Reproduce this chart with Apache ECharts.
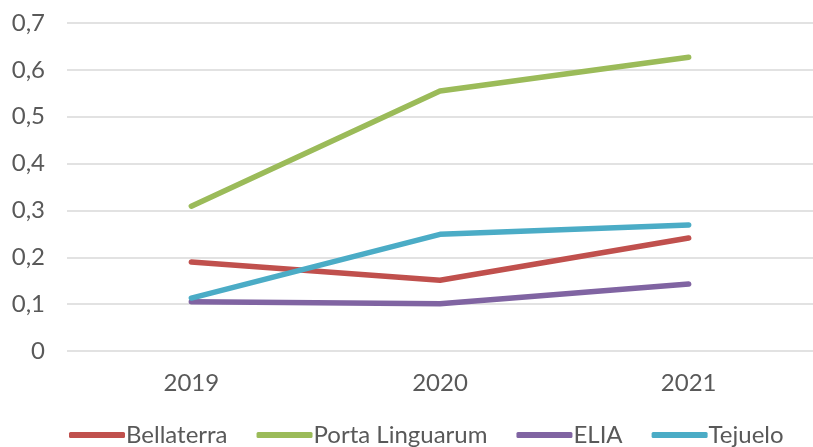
<!DOCTYPE html>
<html>
<head>
<meta charset="utf-8">
<script src="https://cdn.jsdelivr.net/npm/echarts@6/dist/echarts.min.js"></script>
</head>
<body style="margin:0;background:#fff">
<div id="main" style="width:813px;height:447px"></div>
<script>
  // data
  var years = ['2019', '2020', '2021'];
  var bellaterra = [0.19, 0.151, 0.241];
  var portaLinguarum = [0.309, 0.555, 0.627];
  var elia = [0.105, 0.101, 0.143];
  var tejuelo = [0.113, 0.249, 0.269];

  var myChart = echarts.init(document.getElementById('main'));
  function line(name, data, color) {
    return {
      name: name,
      type: 'line',
      data: data,
      symbol: 'none',
      lineStyle: { width: 5.5, color: color, cap: 'round', join: 'round' },
      itemStyle: { color: color }
    };
  }
  myChart.setOption({
    animation: false,
    textStyle: { fontFamily: 'Lato' },
    // the plot runs past the right edge in the original
    grid: { left: 67, right: -16, top: 23, bottom: 96 },
    legend: {
      top: 418,
      left: 64,
      itemWidth: 56,
      itemHeight: 6,
      itemGap: 29,
      icon: 'roundRect',
      textStyle: { fontSize: 24, color: '#595959', fontFamily: 'Lato', padding: [0, 0, 0, -4] }
    },
    xAxis: {
      type: 'category',
      data: years,
      axisLine: { show: false },
      axisTick: { show: false },
      axisLabel: { fontSize: 24, color: '#595959', margin: 20 }
    },
    yAxis: {
      type: 'value',
      min: 0,
      max: 0.7,
      interval: 0.1,
      axisLabel: {
        fontSize: 24, color: '#595959', margin: 22,
        formatter: function (v) { return v === 0 ? '0' : v.toFixed(1).replace('.', ','); }
      },
      splitLine: { lineStyle: { color: '#d9d9d9', width: 1.5 } }
    },
    series: [
      line('Bellaterra', bellaterra, '#C0504D'),
      line('Porta Linguarum', portaLinguarum, '#9BBB59'),
      line('ELIA', elia, '#8064A2'),
      line('Tejuelo', tejuelo, '#4BACC6')
    ]
  });
</script>
</body>
</html>
